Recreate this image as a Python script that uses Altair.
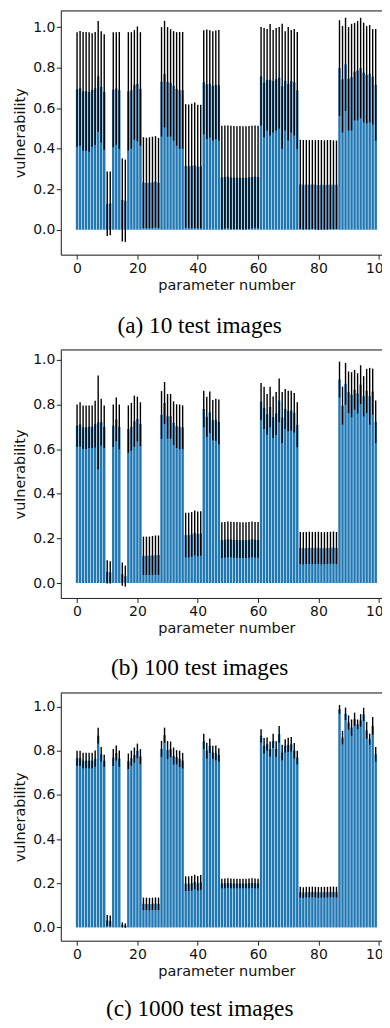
import altair as alt
import pandas as pd

# ---------------- data ----------------
params = list(range(100))
x_ticks = [0, 20, 40, 60, 80, 100]
y_ticks = [0.0, 0.2, 0.4, 0.6, 0.8, 1.0]
captions = ["(a) 10 test images", "(b) 100 test images", "(c) 1000 test images"]

# (a) 10 test images
mean_10 = [
    0.692, 0.698, 0.683, 0.683, 0.680, 0.690, 0.698, 0.757, 0.705, 0.680,   # 0-9
    0.128, 0.130,                                                           # 10-11
    0.691, 0.697, 0.688,                                                    # 12-14
    0.147, 0.143,                                                           # 15-16
    0.683, 0.688, 0.715, 0.720, 0.695,                                      # 17-21
    0.233, 0.231, 0.232, 0.234, 0.237, 0.231,                               # 22-27
    0.730, 0.768, 0.730, 0.725, 0.710, 0.695, 0.688, 0.688,                 # 28-35
    0.315, 0.313, 0.315, 0.318, 0.312, 0.312,                               # 36-41
    0.728, 0.718, 0.720, 0.710, 0.715, 0.713,                               # 42-47
    0.258, 0.260, 0.262, 0.258, 0.257, 0.257, 0.257, 0.256, 0.257, 0.258, 0.260, 0.262, 0.260,  # 48-60
    0.757, 0.726, 0.740, 0.740, 0.733, 0.743, 0.750, 0.708, 0.735, 0.720, 0.733, 0.728, 0.688,  # 61-73
    0.224, 0.222, 0.223, 0.222, 0.224, 0.222, 0.221, 0.222, 0.221, 0.222, 0.223, 0.222, 0.222,  # 74-86
    0.798, 0.743, 0.816, 0.745, 0.753, 0.780, 0.785, 0.798, 0.776, 0.765, 0.770, 0.755, 0.715,  # 87-99
]
err_10 = [
    0.283, 0.283, 0.293, 0.293, 0.295, 0.280, 0.278, 0.273, 0.275, 0.285,
    0.159, 0.157,
    0.284, 0.278, 0.288,
    0.205, 0.203,
    0.292, 0.287, 0.270, 0.283, 0.280,
    0.224, 0.223, 0.224, 0.225, 0.225, 0.222,
    0.270, 0.263, 0.270, 0.265, 0.270, 0.280, 0.288, 0.288,
    0.305, 0.305, 0.307, 0.310, 0.305, 0.305,
    0.257, 0.270, 0.265, 0.270, 0.268, 0.273,
    0.255, 0.254, 0.253, 0.255, 0.255, 0.254, 0.255, 0.255, 0.254, 0.254, 0.253, 0.252, 0.253,
    0.243, 0.270, 0.250, 0.275, 0.253, 0.253, 0.250, 0.308, 0.245, 0.280, 0.253, 0.263, 0.288,
    0.220, 0.221, 0.220, 0.220, 0.219, 0.220, 0.222, 0.221, 0.220, 0.221, 0.220, 0.219, 0.218,
    0.236, 0.263, 0.230, 0.255, 0.263, 0.240, 0.245, 0.248, 0.246, 0.240, 0.240, 0.235, 0.275,
]

# (b) 100 test images
mean_100 = [
    0.705, 0.711, 0.698, 0.698, 0.700, 0.700, 0.712, 0.720, 0.721, 0.700,
    0.050, 0.048,
    0.705, 0.733, 0.700,
    0.040, 0.031,
    0.690, 0.700, 0.725, 0.735, 0.712,
    0.122, 0.122, 0.122, 0.124, 0.125, 0.125,
    0.753, 0.807, 0.747, 0.747, 0.717, 0.703, 0.700, 0.698,
    0.215, 0.215, 0.218, 0.225, 0.220, 0.222,
    0.780, 0.745, 0.765, 0.730, 0.732, 0.722,
    0.192, 0.194, 0.196, 0.195, 0.193, 0.193, 0.192, 0.192, 0.192, 0.193, 0.196, 0.194, 0.193,
    0.813, 0.785, 0.756, 0.789, 0.743, 0.760, 0.818, 0.742, 0.780, 0.771, 0.773, 0.763, 0.709,
    0.157, 0.156, 0.157, 0.158, 0.157, 0.157, 0.158, 0.156, 0.156, 0.157, 0.158, 0.159, 0.157,
    0.912, 0.795, 0.893, 0.855, 0.844, 0.866, 0.850, 0.889, 0.837, 0.861, 0.837, 0.858, 0.723,
]
err_100 = [
    0.095, 0.099, 0.097, 0.097, 0.095, 0.095, 0.105, 0.210, 0.105, 0.095,
    0.052, 0.050,
    0.095, 0.098, 0.100,
    0.052, 0.047,
    0.106, 0.107, 0.115, 0.100, 0.098,
    0.086, 0.086, 0.086, 0.087, 0.088, 0.088,
    0.107, 0.094, 0.100, 0.100, 0.097, 0.098, 0.100, 0.098,
    0.100, 0.100, 0.100, 0.100, 0.100, 0.100,
    0.082, 0.090, 0.093, 0.090, 0.094, 0.100,
    0.080, 0.080, 0.080, 0.080, 0.080, 0.080, 0.080, 0.080, 0.080, 0.080, 0.080, 0.080, 0.080,
    0.083, 0.095, 0.091, 0.091, 0.093, 0.096, 0.098, 0.114, 0.090, 0.091, 0.089, 0.088, 0.101,
    0.072, 0.072, 0.072, 0.072, 0.072, 0.072, 0.072, 0.072, 0.072, 0.072, 0.072, 0.072, 0.072,
    0.080, 0.085, 0.093, 0.093, 0.101, 0.089, 0.090, 0.087, 0.090, 0.099, 0.127, 0.103, 0.095,
]

# (c) 1000 test images
mean_1000 = [
    0.766, 0.766, 0.755, 0.755, 0.755, 0.755, 0.764, 0.868, 0.784, 0.754,
    0.032, 0.030,
    0.769, 0.789, 0.764,
    0.012, 0.009,
    0.752, 0.766, 0.780, 0.799, 0.773,
    0.107, 0.107, 0.106, 0.107, 0.108, 0.107,
    0.808, 0.870, 0.803, 0.806, 0.776, 0.770, 0.763, 0.755,
    0.198, 0.198, 0.200, 0.206, 0.200, 0.204,
    0.842, 0.800, 0.822, 0.792, 0.790, 0.781,
    0.199, 0.200, 0.201, 0.200, 0.199, 0.199, 0.199, 0.199, 0.199, 0.200, 0.201, 0.200, 0.199,
    0.867, 0.822, 0.829, 0.807, 0.844, 0.807, 0.874, 0.792, 0.822, 0.826, 0.829, 0.800, 0.769,
    0.160, 0.158, 0.160, 0.160, 0.161, 0.160, 0.159, 0.159, 0.160, 0.160, 0.161, 0.161, 0.160,
    0.987, 0.859, 0.967, 0.927, 0.904, 0.942, 0.919, 0.937, 0.964, 0.892, 0.852, 0.912, 0.784,
]
err_1000 = [
    0.034, 0.034, 0.035, 0.035, 0.035, 0.035, 0.037, 0.036, 0.033, 0.027,
    0.025, 0.024,
    0.038, 0.034, 0.037,
    0.011, 0.010,
    0.035, 0.034, 0.034, 0.033, 0.034,
    0.028, 0.028, 0.028, 0.028, 0.028, 0.028,
    0.036, 0.034, 0.041, 0.035, 0.038, 0.032, 0.037, 0.035,
    0.033, 0.033, 0.033, 0.033, 0.033, 0.033,
    0.035, 0.036, 0.033, 0.030, 0.033, 0.030,
    0.022, 0.022, 0.022, 0.022, 0.022, 0.022, 0.022, 0.022, 0.022, 0.022, 0.022, 0.022, 0.022,
    0.030, 0.035, 0.030, 0.034, 0.032, 0.035, 0.038, 0.035, 0.030, 0.032, 0.033, 0.035, 0.030,
    0.024, 0.024, 0.024, 0.024, 0.024, 0.024, 0.024, 0.024, 0.024, 0.024, 0.024, 0.024, 0.024,
    0.020, 0.030, 0.028, 0.032, 0.037, 0.030, 0.022, 0.028, 0.030, 0.038, 0.025, 0.040, 0.033,
]

# ---------------- layout ----------------
W = 332.4
BAR = "#1f77b4"
INK = "#222222"
XDOM = [-5.39, 104.39]


def panel(mean, err, caption, ydom, h, cap_offset):
    df = pd.DataFrame({"param": params, "mean": mean, "err": err})
    base = alt.Chart(df).transform_calculate(
        x0="datum.param - 0.4",
        x1="datum.param + 0.4",
        lo="datum.mean - datum.err",
        hi="datum.mean + datum.err",
    )
    xsc = alt.Scale(domain=XDOM, nice=False, zero=False)
    ysc = alt.Scale(domain=ydom, nice=False, zero=False)
    ax_x = alt.Axis(values=x_ticks, format="d", title="parameter number", grid=False,
                    labelFont="DejaVu Sans", titleFont="DejaVu Sans", labelFontSize=14,
                    titleFontSize=14.5, titleFontWeight="normal", labelColor="#111",
                    titleColor="#111", tickSize=4.5, tickColor=INK, domainColor=INK,
                    labelPadding=2, titlePadding=3, labelFlush=False, labelOverlap=False)
    ax_y = alt.Axis(values=y_ticks, format=".1f", title="vulnerability", grid=False,
                    labelFont="DejaVu Sans", titleFont="DejaVu Sans", labelFontSize=14,
                    titleFontSize=14.5, titleFontWeight="normal", labelColor="#111",
                    titleColor="#111", tickSize=4.5, tickColor=INK, domainColor=INK,
                    labelPadding=1.5, titlePadding=4.75, labelFlush=False)
    bars = base.mark_bar(color=BAR, strokeWidth=0).encode(
        x=alt.X("x0:Q", scale=xsc, axis=ax_x),
        x2="x1:Q",
        y=alt.Y("mean:Q", scale=ysc, axis=ax_y),
        y2=alt.datum(0),
    )
    errs = base.mark_rule(color="black", strokeWidth=1.4).encode(
        x=alt.X("param:Q", scale=xsc, axis=ax_x),
        y=alt.Y("lo:Q", scale=ysc, axis=ax_y),
        y2="hi:Q",
    )
    top = alt.Chart(pd.DataFrame({"v": [0]})).mark_rule(color=INK, strokeWidth=1).encode(
        x=alt.value(0), x2=alt.value(W), y=alt.value(0)
    )
    return alt.layer(bars, errs, top).properties(
        width=W, height=h,
        title=alt.TitleParams(caption, orient="bottom", font="Liberation Serif",
                              fontSize=23.3, fontWeight="normal", color="black",
                              anchor="middle", frame="group", offset=cap_offset, dx=-26.8),
    )


pa = panel(mean_10, err_10, captions[0], [-0.123, 1.080], 244.7, 24)
pb = panel(mean_100, err_100, captions[1], [-0.067, 1.0446], 249, 22)
pc = panel(mean_1000, err_1000, captions[2], [-0.0598, 1.0611], 248.7, 21)

chart = alt.vconcat(pa, pb, pc, spacing=95.3, bounds="flush").properties(
    padding={"left": 4, "top": 0, "right": -11, "bottom": -4}
).configure_view(stroke=None).configure(background="white")

chart.save("out.html", embed_options={"renderer": "svg", "actions": False})
